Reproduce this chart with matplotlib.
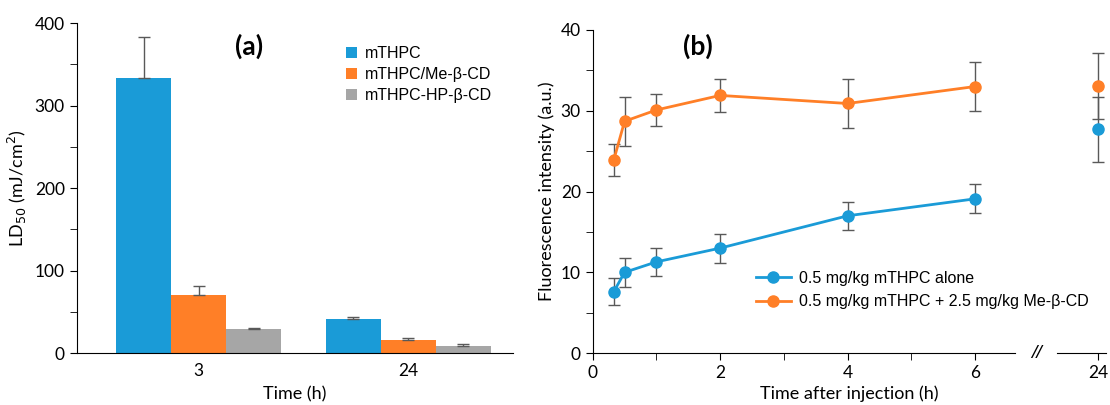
import numpy as np
import matplotlib.pyplot as plt
from matplotlib.lines import Line2D
from matplotlib.ticker import MultipleLocator

# ---- panel (a) data: LD50 per formulation
times_a = ['3', '24']
formulations = ['mTHPC', 'mTHPC/Me-β-CD', 'mTHPC-HP-β-CD']
ld50_mean = [[333, 41], [71, 16], [29, 9]]
ld50_err = [[50, 3], [10, 2], [2, 2]]

# ---- panel (b) data: fluorescence vs time
time_b = [0.33, 0.5, 1, 2, 4, 6]
alone_mean = [7.6, 10.0, 11.3, 13.0, 17.0, 19.1]
alone_err = [1.7, 1.8, 1.75, 1.8, 1.75, 1.8]
cd_mean = [23.9, 28.7, 30.1, 31.9, 30.9, 33.0]
cd_err = [2.0, 3.0, 2.0, 2.0, 3.0, 3.0]
late_label = '24'
alone_24, alone_24_err = 27.7, 4.0
cd_24, cd_24_err = 33.1, 4.1
series_b = ['0.5 mg/kg mTHPC alone', '0.5 mg/kg mTHPC + 2.5 mg/kg Me-β-CD']

blue = '#1a9bd7'
orange = '#ff7f27'
gray = '#a6a6a6'
ecol = '#595959'

plt.rcParams['font.family'] = ['Lato', 'DejaVu Sans']
fig = plt.figure(figsize=(11.1, 4.05), dpi=100)

# ---------------- (a)
ax1 = fig.add_axes([0.069, 0.128, 0.393, 0.815])
x = np.arange(len(times_a))
w = 0.263
colors = [blue, orange, gray]
for i, name in enumerate(formulations):
    ax1.bar(x + (i - 1) * w, ld50_mean[i], w, color=colors[i], label=name,
            yerr=[np.zeros(len(times_a)), ld50_err[i]],
            error_kw=dict(ecolor=ecol, elinewidth=1, capsize=4, capthick=1))
ax1.set_xlim(-0.584, 1.50)
ax1.set_ylim(0, 400)
ax1.set_xticks(x)
ax1.set_xticklabels(times_a)
ax1.tick_params(axis='x', length=0, labelsize=12.5, pad=7)
ax1.yaxis.set_major_locator(MultipleLocator(100))
ax1.yaxis.set_minor_locator(MultipleLocator(50))
ax1.tick_params(axis='y', which='both', direction='out', length=5, labelsize=12.5)
for s in ['top', 'right']:
    ax1.spines[s].set_visible(False)
ax1.set_ylabel('LD$_{50}$ (mJ/cm$^2$)', fontsize=13)
ax1.set_xlabel('Time (h)', fontsize=13, labelpad=5)
ax1.text(0.395, 0.93, '(a)', transform=ax1.transAxes, fontsize=19,
         fontweight='bold', ha='center', va='center')
ax1.legend(loc='upper left', bbox_to_anchor=(0.585, 0.975), frameon=False,
           prop={'family': 'Liberation Sans', 'size': 11.5},
           handlelength=0.7, handleheight=0.7, handletextpad=0.5,
           labelspacing=0.38)

# ---------------- (b)
ax2 = fig.add_axes([0.534, 0.128, 0.462, 0.798])
x24 = 7.93
ax2.errorbar(time_b, alone_mean, yerr=alone_err, color=blue, marker='o',
             ms=8, lw=2, ecolor=ecol, elinewidth=1, capsize=4)
ax2.errorbar(time_b, cd_mean, yerr=cd_err, color=orange, marker='o',
             ms=8, lw=2, ecolor=ecol, elinewidth=1, capsize=4)
ax2.errorbar([x24], [alone_24], yerr=[alone_24_err], color=blue, marker='o',
             ms=8, ls='none', ecolor=ecol, elinewidth=1, capsize=4)
ax2.errorbar([x24], [cd_24], yerr=[cd_24_err], color=orange, marker='o',
             ms=8, ls='none', ecolor=ecol, elinewidth=1, capsize=4)
ax2.set_xlim(0, 8.05)
ax2.set_ylim(0, 40)
ax2.set_xticks([0, 2, 4, 6, x24])
ax2.set_xticklabels(['0', '2', '4', '6', late_label])
ax2.set_xticks([1, 3, 5], minor=True)
ax2.yaxis.set_major_locator(MultipleLocator(10))
ax2.yaxis.set_minor_locator(MultipleLocator(5))
ax2.tick_params(which='both', direction='out', length=5, labelsize=12.5)
for s in ['top', 'right']:
    ax2.spines[s].set_visible(False)
ax2.spines['bottom'].set_bounds(0, 6.63)
ax2.plot([7.29, 8.05], [0, 0], color='black', lw=0.8, clip_on=False)
ax2.text(6.96, 0, '//', fontsize=14, ha='center', va='center',
         family='Liberation Sans', style='italic')
for sp in list(ax1.spines.values()) + list(ax2.spines.values()):
    sp.set_linewidth(0.8)
ax2.set_ylabel('Fluorescence intensity (a.u.)', fontsize=13)
ax2.set_xlabel('Time after injection (h)', fontsize=13, labelpad=3)
ax2.text(0.205, 0.95, '(b)', transform=ax2.transAxes, fontsize=19,
         fontweight='bold', ha='center', va='center')
handles = [Line2D([], [], color=c, marker='o', ms=8, lw=2) for c in (blue, orange)]
ax2.legend(handles, series_b, loc='upper left', bbox_to_anchor=(0.29, 0.30),
           frameon=False, prop={'family': 'Liberation Sans', 'size': 11.5},
           handlelength=2.2, handletextpad=0.5, labelspacing=0.55)

fig.savefig('out.png', dpi=100)
